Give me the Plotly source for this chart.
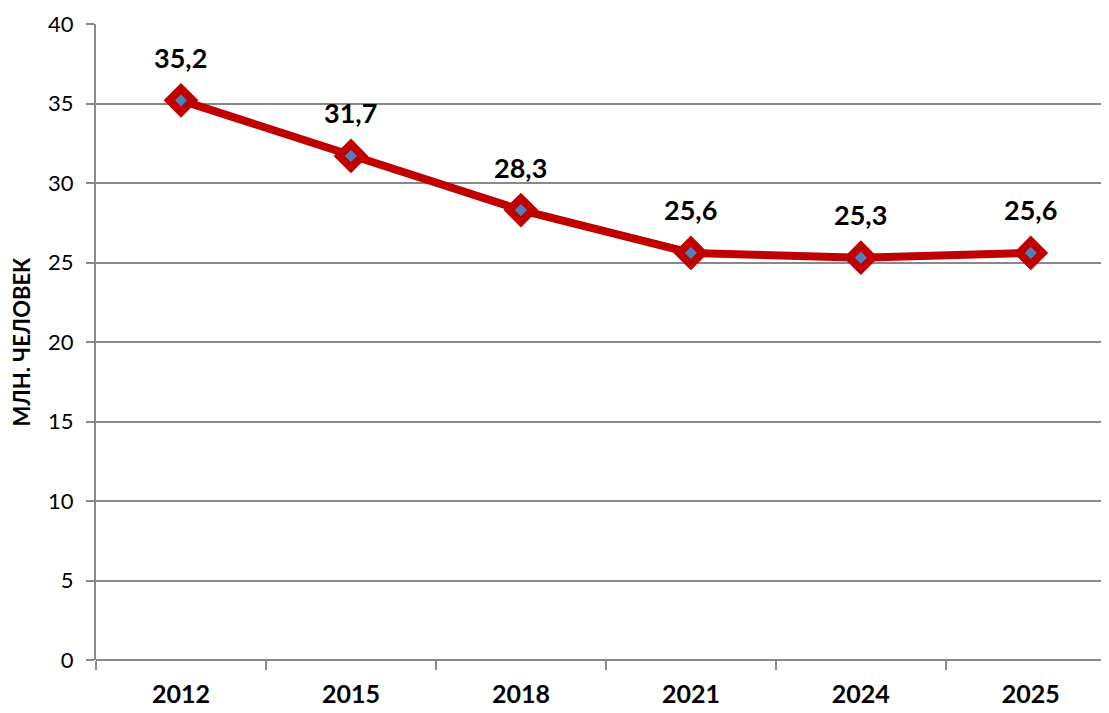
import plotly.graph_objects as go

years = ["2012", "2015", "2018", "2021", "2024", "2025"]
values = [35.2, 31.7, 28.3, 25.6, 25.3, 25.6]
labels = ["35,2", "31,7", "28,3", "25,6", "25,3", "25,6"]
y_ticks = [0, 5, 10, 15, 20, 25, 30, 35, 40]

RED = "#C00000"
BLUE = "#4F81BD"
GRAY = "#898989"
FONT = "Lato"

fig = go.Figure()
fig.add_trace(go.Scatter(
    x=years, y=values, mode="lines+markers",
    line=dict(color=RED, width=8),
    marker=dict(symbol="diamond", size=18, color=BLUE, line=dict(color=RED, width=8)),
    cliponaxis=False, hoverinfo="skip", showlegend=False,
))

for i, (v, lab) in enumerate(zip(values, labels)):
    fig.add_annotation(x=i, y=v, xref="x", yref="y", text=f"<b>{lab}</b>", showarrow=False,
                       yshift=43, font=dict(family=FONT, size=27, color="black"))

# page body has an 8px margin, so the figure is sized to end at the window edge
fig.update_layout(
    width=1101, height=705,
    margin=dict(l=88, r=0, t=16, b=53, autoexpand=False),
    paper_bgcolor="white", plot_bgcolor="white",
    font=dict(family=FONT, color="black"),
)
fig.update_xaxes(
    type="category", range=[-0.5, 5.46], tickson="boundaries",
    ticks="outside", ticklen=9, tickwidth=2, tickcolor=GRAY,
    showline=False, showgrid=False, zeroline=False, automargin=False,
    tickfont=dict(family=FONT, size=25, color="black"),
    tickprefix="<b>", ticksuffix="</b>",
    ticklabelstandoff=17, ticklabeloverflow="allow",
)
fig.update_yaxes(
    range=[0, 40], tickvals=y_ticks,
    ticks="outside", ticklen=8, tickwidth=2, tickcolor=GRAY,
    showline=True, linecolor=GRAY, linewidth=2,
    showgrid=True, gridcolor=GRAY, gridwidth=2,
    zeroline=True, zerolinecolor=GRAY, zerolinewidth=2, automargin=False,
    tickfont=dict(family=FONT, size=22, color="black"),
    ticklabelstandoff=8, ticklabeloverflow="allow",
    title=dict(text="<b>МЛН. ЧЕЛОВЕК</b>", font=dict(family=FONT, size=22, color="black"), standoff=14),
)

fig.write_html("out.html")
